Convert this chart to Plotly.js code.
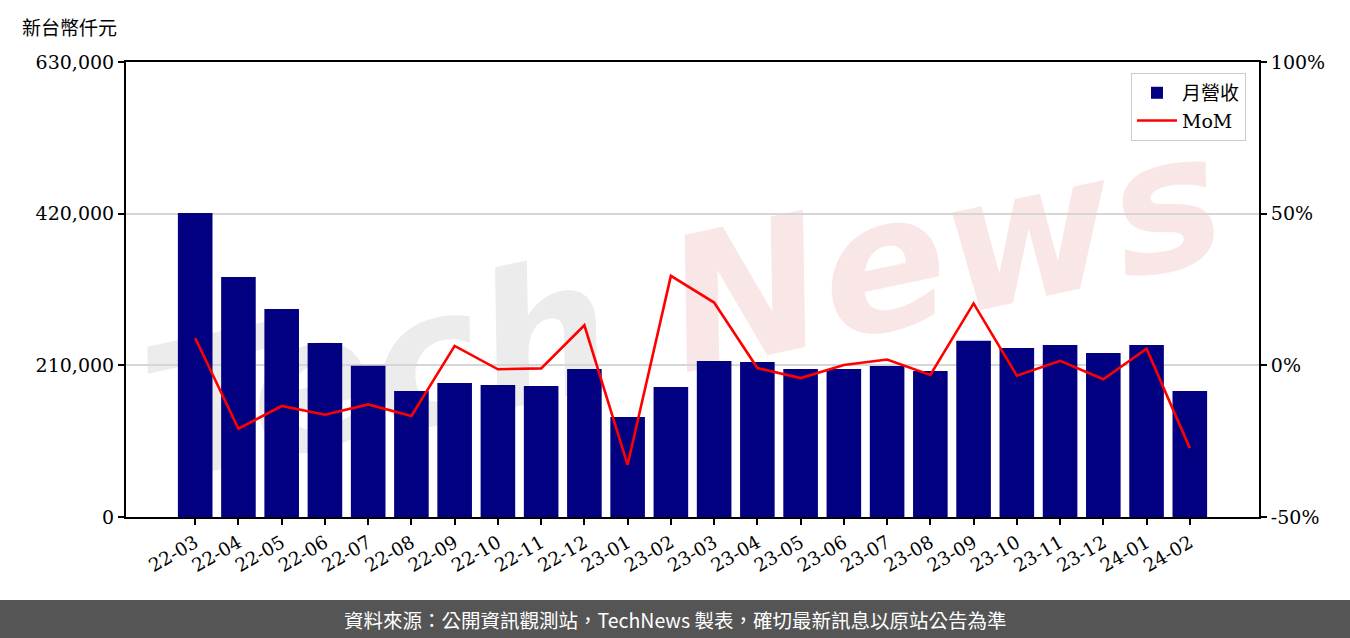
<!DOCTYPE html>
<html>
<head>
<meta charset="utf-8">
<script src="https://cdn.plot.ly/plotly-3.0.1.min.js"></script>
<style>html,body{margin:0;padding:0;background:#fff;}#chart{width:1350px;height:638px;}</style>
</head>
<body>
<div id="chart"></div>
<script>
var months = ['22-03','22-04','22-05','22-06','22-07','22-08','22-09','22-10','22-11','22-12',
              '23-01','23-02','23-03','23-04','23-05','23-06','23-07','23-08','23-09','23-10',
              '23-11','23-12','24-01','24-02'];
var revenue = [421000, 332300, 288000, 240900, 209500, 174500, 185500, 182800, 181400, 204900,
               138500, 180000, 216000, 214600, 204900, 204900, 209100, 202200, 244100, 234000,
               238200, 227100, 238200, 174500];
var mom = [9.0, -20.9, -13.4, -16.3, -12.9, -16.7, 6.4, -1.3, -1.0, 13.2,
           -32.8, 29.5, 20.7, -0.9, -4.2, 0.1, 1.9, -3.2, 20.4, -3.4,
           1.5, -4.6, 5.5, -27.3];
var leftTicks = [0, 210000, 420000, 630000];
var leftTickText = ['0', '210,000', '420,000', '630,000'];
var rightTicks = [-50, 0, 50, 100];
var rightTickText = ['-50%', '0%', '50%', '100%'];

var serif = 'DejaVu Serif, Noto Sans CJK TC, serif';
var cjk = 'Noto Sans CJK TC, sans-serif';

var traces = [
  {type: 'bar', x: months, y: revenue, name: '月營收', marker: {color: '#000080'}, yaxis: 'y'},
  {type: 'scatter', mode: 'lines', x: months, y: mom, name: 'MoM', line: {color: '#ff0000', width: 2.6}, yaxis: 'y2'}
];

var layout = {
  width: 1350, height: 638,
  margin: {l: 126, r: 91, t: 62, b: 121},
  paper_bgcolor: '#ffffff', plot_bgcolor: 'rgba(0,0,0,0)',
  bargap: 0.2,
  showlegend: true,
  legend: {x: 0.9885, xanchor: 'right', y: 0.976, yanchor: 'top', bgcolor: '#ffffff',
           bordercolor: '#cccccc', borderwidth: 1, font: {family: serif, size: 19, color: '#000'},
           tracegroupgap: 4, itemwidth: 40},
  xaxis: {type: 'category', range: [-1.6, 24.6], tickangle: -30, ticks: 'outside', ticklen: 6, tickwidth: 1.5,
          tickcolor: '#000', showline: true, linecolor: '#000', linewidth: 2, mirror: true,
          showgrid: false, tickfont: {family: serif, size: 18.5, color: '#000'}, automargin: false},
  yaxis: {range: [0, 630000], tickvals: leftTicks, ticktext: leftTickText, ticks: 'outside', ticklen: 6,
          tickwidth: 1.5, tickcolor: '#000', showline: true, linecolor: '#000', linewidth: 2, mirror: true,
          showgrid: true, gridcolor: '#d6d6d6', gridwidth: 1.5, zeroline: false,
          tickfont: {family: serif, size: 19, color: '#000'}, automargin: false},
  yaxis2: {range: [-50, 100], overlaying: 'y', side: 'right', tickvals: rightTicks, ticktext: rightTickText,
           ticks: 'outside', ticklen: 6, tickwidth: 1.5, tickcolor: '#000', showline: true, linecolor: '#000',
           linewidth: 2, showgrid: false, zeroline: false,
           tickfont: {family: serif, size: 19, color: '#000'}, automargin: false},
  shapes: [
    {type: 'rect', xref: 'paper', yref: 'paper', x0: 0.17, x1: 0.27, y0: 0.3, y1: 0.4, layer: 'below',
     line: {width: 0}, fillcolor: 'rgba(0,0,0,0)',
     label: {text: 'Tech', textangle: -12, textposition: 'middle center',
             font: {family: 'DejaVu Sans', size: 185, color: '#ececec', style: 'italic', weight: 'bold'}}},
    {type: 'rect', xref: 'paper', yref: 'paper', x0: 0.67, x1: 0.77, y0: 0.56, y1: 0.66, layer: 'below',
     line: {width: 0}, fillcolor: 'rgba(0,0,0,0)',
     label: {text: 'News', textangle: -12, textposition: 'middle center',
             font: {family: 'DejaVu Sans', size: 185, color: '#f9e7e7', style: 'italic', weight: 'bold'}}},
    {type: 'rect', xref: 'paper', yref: 'paper', x0: -0.12, x1: 1.09, y0: -0.1824, y1: -0.28, layer: 'above',
     line: {width: 0}, fillcolor: '#555555'}
  ],
  annotations: [
    {text: '新台幣仟元', xref: 'paper', yref: 'paper', x: -0.0936, y: 1.077, xanchor: 'left', yanchor: 'middle',
     showarrow: false, font: {family: cjk, size: 19, color: '#000'}},
    {text: '資料來源：公開資訊觀測站，TechNews 製表，確切最新訊息以原站公告為準', xref: 'paper', yref: 'paper',
     x: 0.4846, y: -0.2242, xanchor: 'center', yanchor: 'middle', showarrow: false,
     font: {family: cjk, size: 19.5, color: '#ffffff'}}
  ]
};

Plotly.newPlot('chart', traces, layout, {displayModeBar: false, responsive: false});
</script>
</body>
</html>
